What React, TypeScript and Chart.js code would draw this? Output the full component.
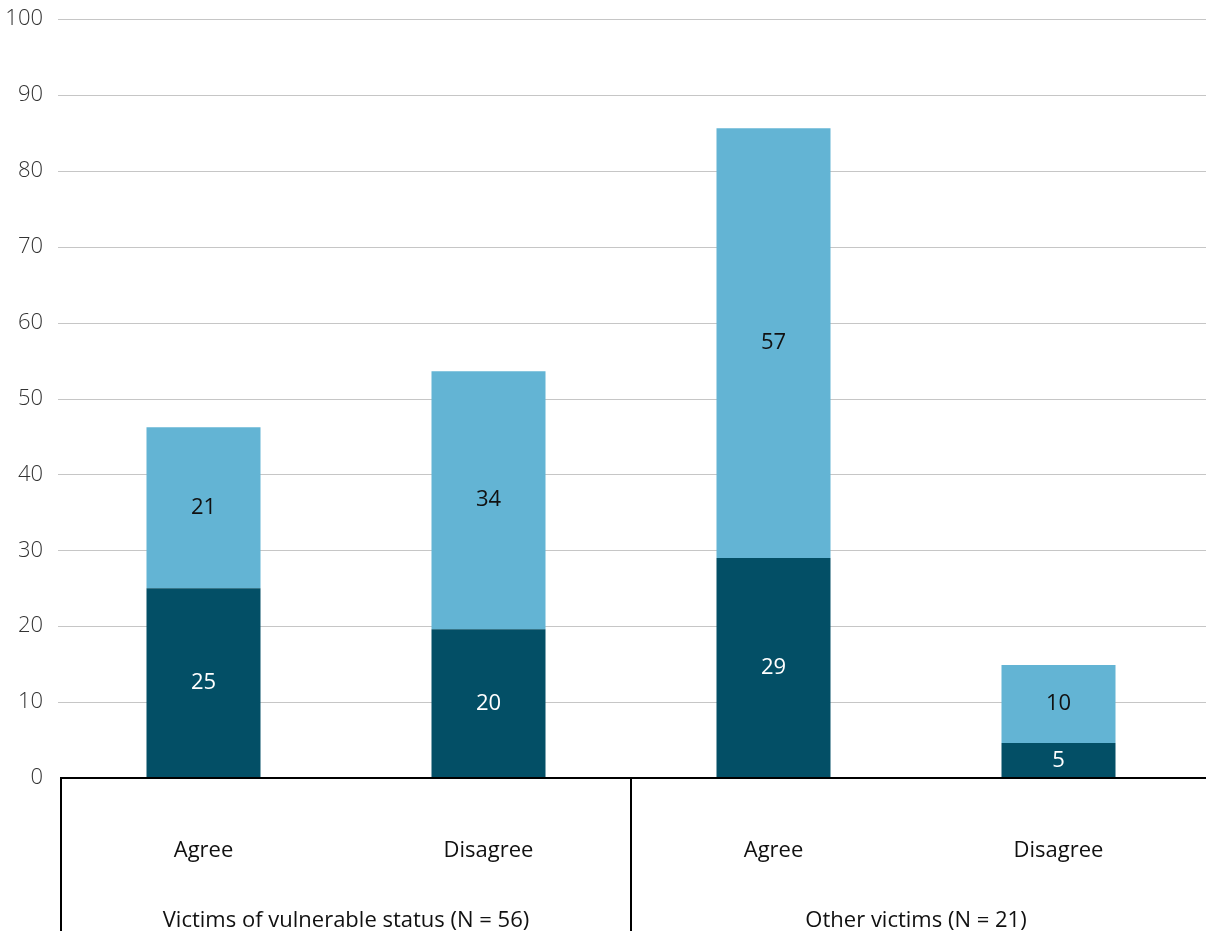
import React, { useEffect, useRef } from "react";
import { Chart, registerables } from "chart.js";

Chart.register(...registerables);

const categories = ["Agree", "Disagree", "Agree", "Disagree"];
const groups = ["Victims of vulnerable status (N = 56)", "Other victims (N = 21)"];
const darkValues = [25.0, 19.6, 29.0, 4.6];
const lightValues = [21.2, 34.0, 56.6, 10.3];
const yTicks = [0, 10, 20, 30, 40, 50, 60, 70, 80, 90, 100];

const DARK = "#034f66";
const LIGHT = "#63b4d4";
const FONT = "'Open Sans', 'Noto Sans', sans-serif";

const customPlugin = {
  id: "custom",
  beforeDatasetsDraw(chart: any) {
    const ctx = chart.ctx;
    const y = chart.scales.y;
    ctx.save();
    ctx.strokeStyle = "#c6c6c6";
    ctx.lineWidth = 1;
    yTicks.forEach((t) => {
      if (t === 0) return;
      const py = Math.round(y.getPixelForValue(t)) + 0.5;
      ctx.beginPath();
      ctx.moveTo(58, py);
      ctx.lineTo(chart.width, py);
      ctx.stroke();
    });
    ctx.restore();
  },
  afterDatasetsDraw(chart: any) {
    const ctx = chart.ctx;
    const x = chart.scales.x;
    const y = chart.scales.y;
    ctx.save();
    // data labels
    ctx.font = `22px ${FONT}`;
    ctx.textAlign = "center";
    ctx.textBaseline = "middle";
    chart.data.datasets.forEach((ds: any, di: number) => {
      const meta = chart.getDatasetMeta(di);
      meta.data.forEach((bar: any, i: number) => {
        const props = bar.getProps(["x", "y", "base"], true);
        const cy = (props.y + props.base) / 2;
        ctx.fillStyle = di === 0 ? "#ffffff" : "#111111";
        ctx.fillText(String(Math.round(ds.data[i])), props.x, cy);
      });
    });
    // axis line
    const y0 = y.getPixelForValue(0);
    ctx.strokeStyle = "#000000";
    ctx.lineWidth = 2;
    ctx.beginPath();
    ctx.moveTo(60, y0);
    ctx.lineTo(chart.width, y0);
    ctx.stroke();
    // separators
    const step = x.getPixelForValue(1) - x.getPixelForValue(0);
    const left = x.getPixelForValue(0) - step / 2;
    const mid = x.getPixelForValue(2) - step / 2;
    ctx.lineWidth = 2;
    [left, mid].forEach((px) => {
      ctx.beginPath();
      ctx.moveTo(Math.round(px), y0);
      ctx.lineTo(Math.round(px), chart.height);
      ctx.stroke();
    });
    // category labels
    ctx.fillStyle = "#111111";
    ctx.font = `22px ${FONT}`;
    categories.forEach((c, i) => {
      ctx.fillText(c, x.getPixelForValue(i), 851);
    });
    // group labels
    groups.forEach((g, gi) => {
      const cx = (x.getPixelForValue(gi * 2) + x.getPixelForValue(gi * 2 + 1)) / 2;
      ctx.fillText(g, cx, 921);
    });
    ctx.restore();
  },
};

export default function App() {
  const ref = useRef<HTMLCanvasElement>(null);
  useEffect(() => {
    document.body.style.margin = "0";
    const chart = new Chart(ref.current!, {
      type: "bar",
      data: {
        labels: categories,
        datasets: [
          { label: "dark", data: darkValues, backgroundColor: DARK, barPercentage: 0.8, categoryPercentage: 0.5 },
          { label: "light", data: lightValues, backgroundColor: LIGHT, barPercentage: 0.8, categoryPercentage: 0.5 },
        ],
      },
      options: {
        animation: false,
        responsive: false,
        maintainAspectRatio: false,
        layout: { autoPadding: false, padding: { top: 19, right: 5, bottom: 153, left: 0 } },
        plugins: { legend: { display: false }, tooltip: { enabled: false } },
        scales: {
          x: { stacked: true, display: false },
          y: {
            stacked: true,
            min: 0,
            max: 100,
            grid: { display: false },
            border: { display: false },
            afterFit: (s: any) => { s.width = 61; s.paddingTop = 0; s.paddingBottom = 0; },
            ticks: {
              stepSize: 10,
              padding: 10,
              color: "#333333",
              font: { family: FONT, size: 22, weight: 300 },
            },
          },
        },
      },
      plugins: [customPlugin],
    });
    return () => chart.destroy();
  }, []);
  return (
    <div style={{ width: 1206, height: 931, overflow: "hidden" }}>
      <canvas ref={ref} width={1206} height={931} style={{ display: "block" }} />
    </div>
  );
}
